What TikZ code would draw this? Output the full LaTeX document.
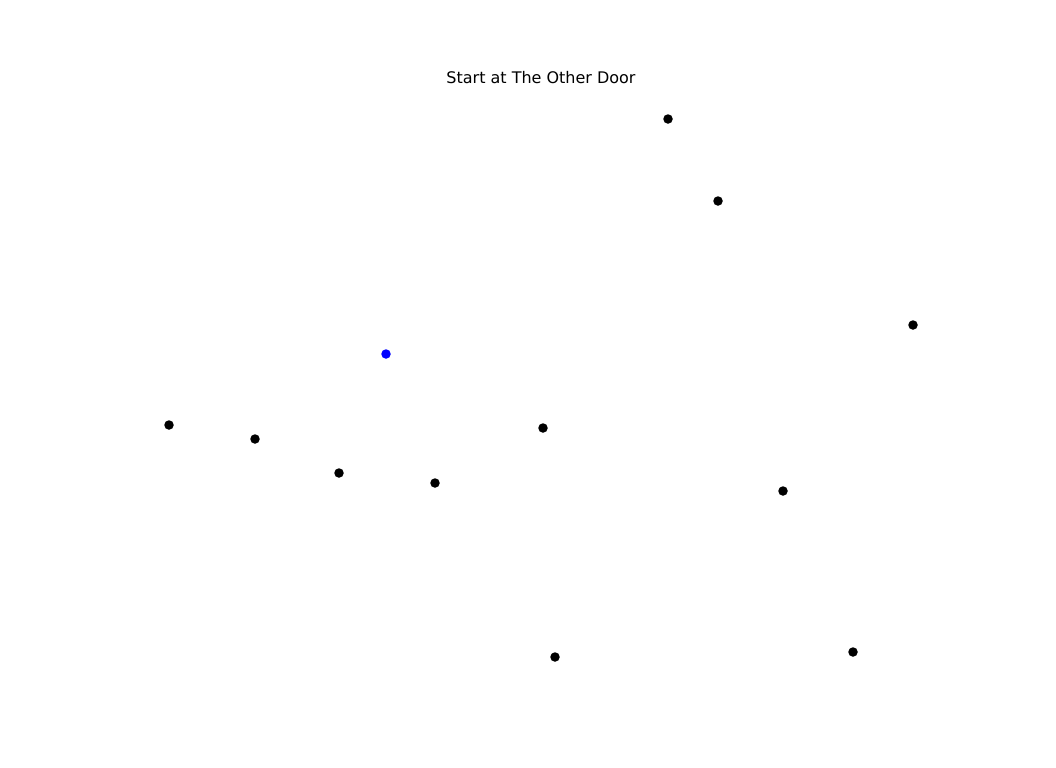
\documentclass[tikz,border=0pt]{standalone}
\usepackage{fontspec}
\setmainfont{DejaVu Sans}
\tikzset{
	spot/.style={circle, fill=black, inner sep=0pt, minimum size=0.19cm},
	startspot/.style={spot, fill=blue}
}
\begin{document}
\begin{tikzpicture}[x=0.02cm, y=-0.02cm]
	\useasboundingbox (0,0) rectangle (1056,768);
	
	\node (title) at (541,78){\fontsize{9.1}{11}\selectfont Start at The Other Door};
	
	% the start
	\node[startspot] (door) at (386,354){};
	
	% the other points
	\node[spot] (p1) at (668,119){};
	\node[spot] (p2) at (718,201){};
	\node[spot] (p3) at (913,325){};
	\node[spot] (p4) at (169,425){};
	\node[spot] (p5) at (255,439){};
	\node[spot] (p6) at (543,428){};
	\node[spot] (p7) at (339,473){};
	\node[spot] (p8) at (435,483){};
	\node[spot] (p9) at (783,491){};
	\node[spot] (p10) at (555,657){};
	\node[spot] (p11) at (853,652){};
\end{tikzpicture}
\end{document}
